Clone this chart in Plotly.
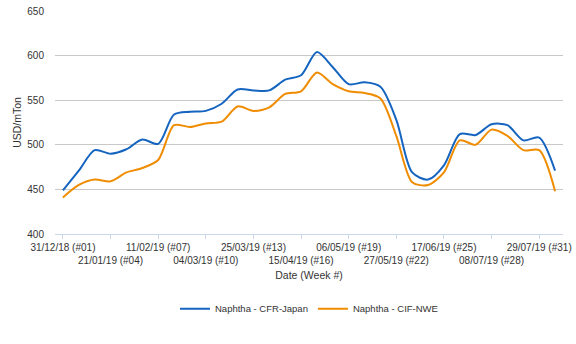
import plotly.graph_objects as go

weeks = list(range(1, 33))
cfr_japan = [449, 471, 494, 490, 495, 506, 501, 534, 537, 538, 546, 562, 561, 561, 573, 578,
             604, 587, 568, 570, 565, 528, 469, 461, 477, 512, 511, 523, 522, 505, 508, 471]
cif_nwe = [441, 455, 461, 459, 469, 474, 483, 522, 520, 524, 526, 543, 538, 542, 557, 560,
           581, 568, 560, 558, 552, 510, 458, 455, 469, 505, 500, 517, 510, 494, 494, 448]

tick_weeks = [1, 4, 7, 10, 13, 16, 19, 22, 25, 28, 31]
tick_labels = ["31/12/18 (#01)", "21/01/19 (#04)", "11/02/19 (#07)", "04/03/19 (#10)",
               "25/03/19 (#13)", "15/04/19 (#16)", "06/05/19 (#19)", "27/05/19 (#22)",
               "17/06/19 (#25)", "08/07/19 (#28)", "29/07/19 (#31)"]
tick_text = [t if i % 2 == 0 else "<br>" + t for i, t in enumerate(tick_labels)]

fig = go.Figure()
fig.add_trace(go.Scatter(x=weeks, y=cfr_japan, name="Naphtha - CFR-Japan", mode="lines",
                         line=dict(color="#1565c0", width=2, shape="spline", smoothing=0.8)))
fig.add_trace(go.Scatter(x=weeks, y=cif_nwe, name="Naphtha - CIF-NWE", mode="lines",
                         line=dict(color="#ef8c00", width=2, shape="spline", smoothing=0.8)))

font = "Liberation Sans, Arial, sans-serif"
txt = "#333333"
fig.update_layout(
    width=576, height=344,
    margin=dict(l=55, r=5, t=10, b=110),
    paper_bgcolor="white", plot_bgcolor="white",
    font=dict(family=font, size=10, color=txt),
    showlegend=True,
    legend=dict(orientation="h", x=0.5, xanchor="center", y=-0.27, yanchor="top",
                font=dict(size=9.5, color=txt)),
    xaxis=dict(range=[0.5, 32.5], tickmode="array", tickvals=tick_weeks, ticktext=tick_text,
               ticks="outside", ticklen=4, tickcolor="#ccd6eb", showline=True, linecolor="#ccd6eb",
               showgrid=False, zeroline=False, tickangle=0, ticklabeloverflow="allow",
               tickfont=dict(size=10, color=txt),
               title=dict(text="Date (Week #)", font=dict(size=10.5, color=txt), standoff=6)),
    yaxis=dict(range=[400, 650], tickvals=[400, 450, 500, 550, 600, 650],
               showgrid=True, gridcolor="#c8c8c8", gridwidth=1, zeroline=False,
               tickfont=dict(size=10, color=txt), ticks="", ticklabelstandoff=10,
               title=dict(text="USD/mTon", font=dict(size=10.5, color=txt), standoff=3)),
)

fig.write_html("out.html")
